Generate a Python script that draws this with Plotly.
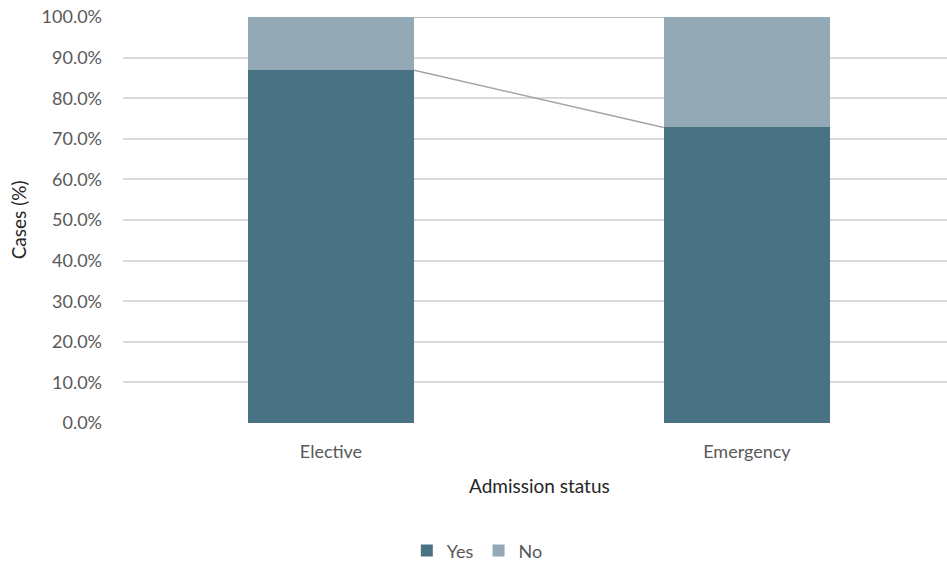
import plotly.graph_objects as go

categories = ["Elective", "Emergency"]
yes_pct = [86.9, 72.8]
no_pct = [13.1, 27.2]
y_ticks = [0, 10, 20, 30, 40, 50, 60, 70, 80, 90, 100]

YES_COLOR = "#4A7285"
NO_COLOR = "#93AAB6"
TEXT = "#595959"
FONT = "Lato, 'Open Sans', sans-serif"
BAR_W = 0.4

fig = go.Figure()
fig.add_trace(go.Bar(name="Yes", x=[0, 1], y=yes_pct, marker_color=YES_COLOR,
                     width=BAR_W, marker_line_width=0))
fig.add_trace(go.Bar(name="No", x=[0, 1], y=no_pct, marker_color=NO_COLOR,
                     width=BAR_W, marker_line_width=0))

# series lines joining the stack segments between the two bars
tops_yes = yes_pct
tops_all = [a + b for a, b in zip(yes_pct, no_pct)]
for tops in (tops_yes, tops_all):
    fig.add_shape(type="line", xref="x", yref="y",
                  x0=0 + BAR_W / 2, x1=1 - BAR_W / 2, y0=tops[0], y1=tops[1],
                  line=dict(color="#A5A5A5", width=1.5), layer="above")

fig.update_layout(
    barmode="stack",
    width=947, height=565,
    margin=dict(l=123, r=0, t=17, b=142, autoexpand=False),
    plot_bgcolor="white", paper_bgcolor="white",
    font=dict(family=FONT, color=TEXT, size=18),
    bargap=0.6,
    showlegend=True,
    legend=dict(orientation="h", x=0.43, xanchor="center",
                yref="container", y=0.025, yanchor="middle",
                font=dict(size=18, color=TEXT), traceorder="normal",
                itemwidth=30),
    xaxis=dict(range=[-0.5, 1.481], tickmode="array", tickvals=[0, 1],
               ticktext=categories, showgrid=False, zeroline=False,
               showline=False, ticks="", ticklabelstandoff=16, automargin=False,
               tickfont=dict(size=18, color=TEXT)),
    yaxis=dict(range=[0, 100], tickmode="array", tickvals=y_ticks,
               ticktext=[f"{v:.1f}%" for v in y_ticks],
               showgrid=True, gridcolor="#D9D9D9", gridwidth=1.5,
               zeroline=False, showline=False, ticks="", automargin=False,
               ticklabelstandoff=20, tickfont=dict(size=18, color=TEXT)),
    annotations=[
        dict(text="Admission status", xref="paper", yref="paper",
             x=0.505, y=-0.153, xanchor="center", yanchor="middle",
             showarrow=False, font=dict(size=19, color="#262626", family=FONT)),
        dict(text="Cases (%)", xref="paper", yref="paper", x=-0.127,
             y=0.5, xanchor="center", yanchor="middle", textangle=-90,
             showarrow=False, font=dict(size=19, color="#262626", family=FONT)),
    ],
)

fig.write_html("out.html")
